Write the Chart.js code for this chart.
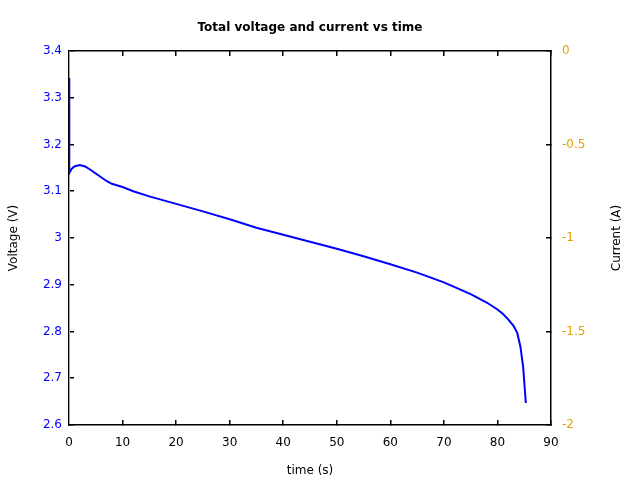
<!DOCTYPE html>
<html>
<head>
<meta charset="utf-8">
<script src="https://cdn.jsdelivr.net/npm/chart.js@4/dist/chart.umd.min.js"></script>
<style>
  html, body { margin: 0; padding: 0; background: #fff; }
  #wrap { width: 640px; height: 480px; }
</style>
</head>
<body>
<div id="wrap"><canvas id="myChart" width="640" height="480"></canvas></div>
<script>
// time (s) and total voltage (V)
var timeS = [0, 0.05, 0.5, 1, 2, 3, 4, 5, 6, 7, 8, 10, 12, 15, 20, 25, 30, 35, 40, 45,
             50, 55, 60, 65, 70, 75, 78, 80, 81, 82, 83, 83.7, 84.3, 84.8, 85.3];
var voltage = [3.342, 3.139, 3.148, 3.153, 3.156, 3.153, 3.146, 3.138, 3.130, 3.122, 3.116,
               3.109, 3.100, 3.089, 3.073, 3.057, 3.040, 3.022, 3.007, 2.992,
               2.977, 2.961, 2.944, 2.926, 2.905, 2.880, 2.862, 2.847, 2.838, 2.826, 2.812,
               2.797, 2.767, 2.724, 2.647];

// current (A): drops to -2 right at the start and stays there
var currentTime = [0, 0.05, 85.3];
var current = [0, -2, -2];

var xTicks = [0, 10, 20, 30, 40, 50, 60, 70, 80, 90];
var voltTicks = [2.6, 2.7, 2.8, 2.9, 3, 3.1, 3.2, 3.3, 3.4];
var currTicks = [-2, -1.5, -1, -0.5, 0];

var blue = '#0000ff';
var orange = '#e69f00';
var frameColor = '#000000';
var font = "'DejaVu Sans', sans-serif";

function pts(xs, ys) {
    return xs.map(function (x, i) { return { x: x, y: ys[i] }; });
}

function fmt(v) { return String(+v.toFixed(2)); }

function useTicks(list) {
    return function (sc) { sc.ticks = list.map(function (v) { return { value: v }; }); };
}

// inward tick marks (negative length), box edges from the axis borders
function inwardGrid() {
    return { display: true, drawOnChartArea: false, drawTicks: true, tickLength: -5, color: frameColor, lineWidth: 1.5 };
}
function frameBorder(z) {
    return { display: true, color: frameColor, width: 1.5, z: z };
}

// right axis title reads bottom to top, like the left one
var rightTitle = {
    id: 'rightTitle',
    afterDraw: function (chart) {
        var c = chart.ctx, a = chart.chartArea;
        c.save();
        c.fillStyle = '#000';
        c.font = '12px ' + font;
        c.textAlign = 'center';
        c.textBaseline = 'middle';
        c.translate(617, (a.top + a.bottom) / 2);
        c.rotate(-Math.PI / 2);
        c.fillText('Current (A)', 0, 0);
        c.restore();
    }
};

var ctx = document.getElementById('myChart').getContext('2d');
var myChart = new Chart(ctx, {
    type: 'line',
    data: {
        datasets: [{
            label: 'Voltage',
            data: pts(timeS, voltage),
            borderColor: blue,
            borderWidth: 2,
            pointRadius: 0,
            tension: 0,
            xAxisID: 'x',
            yAxisID: 'y'
        }, {
            label: 'Current',
            data: pts(currentTime, current),
            borderColor: orange,
            borderWidth: 1,
            pointRadius: 0,
            tension: 0,
            xAxisID: 'x',
            yAxisID: 'y2'
        }]
    },
    options: {
        responsive: false,
        animation: false,
        layout: { padding: 0 },
        plugins: {
            legend: { display: false },
            tooltip: { enabled: false },
            title: {
                display: true,
                text: 'Total voltage and current vs time',
                color: '#000',
                fullSize: false,
                font: { family: font, size: 12, weight: 'bold' },
                padding: { top: 21, bottom: 15.6 }
            }
        },
        scales: {
            x: {
                type: 'linear',
                position: 'bottom',
                min: 0,
                max: 90,
                grid: inwardGrid(),
                border: frameBorder(1),
                afterFit: function (sc) { sc.height = 55; },
                afterBuildTicks: useTicks(xTicks),
                ticks: { color: '#000', padding: 16, font: { family: font, size: 12 }, maxRotation: 0, callback: fmt },
                title: { display: true, text: 'time (s)', color: '#000', padding: { top: 0, bottom: 2 }, font: { family: font, size: 12 } }
            },
            x2: {
                type: 'linear',
                position: 'top',
                min: 0,
                max: 90,
                grid: inwardGrid(),
                border: frameBorder(0),
                afterFit: function (sc) { sc.height = 0; },
                afterBuildTicks: useTicks(xTicks),
                ticks: { display: false }
            },
            y: {
                type: 'linear',
                position: 'left',
                min: 2.6,
                max: 3.4,
                grid: inwardGrid(),
                border: frameBorder(0),
                afterFit: function (sc) { sc.width = 69; },
                afterBuildTicks: useTicks(voltTicks),
                ticks: { color: blue, padding: 12, font: { family: font, size: 12 }, callback: fmt },
                title: { display: true, text: 'Voltage (V)', color: '#000', padding: { top: 7, bottom: 0 }, font: { family: font, size: 12 } }
            },
            y2: {
                type: 'linear',
                position: 'right',
                min: -2,
                max: 0,
                grid: inwardGrid(),
                border: frameBorder(0),
                afterFit: function (sc) { sc.width = 89; },
                afterBuildTicks: useTicks(currTicks),
                ticks: { color: orange, padding: 16, font: { family: font, size: 12 }, callback: fmt },
                title: { display: false }
            }
        }
    },
    plugins: [rightTitle]
});
</script>
</body>
</html>
